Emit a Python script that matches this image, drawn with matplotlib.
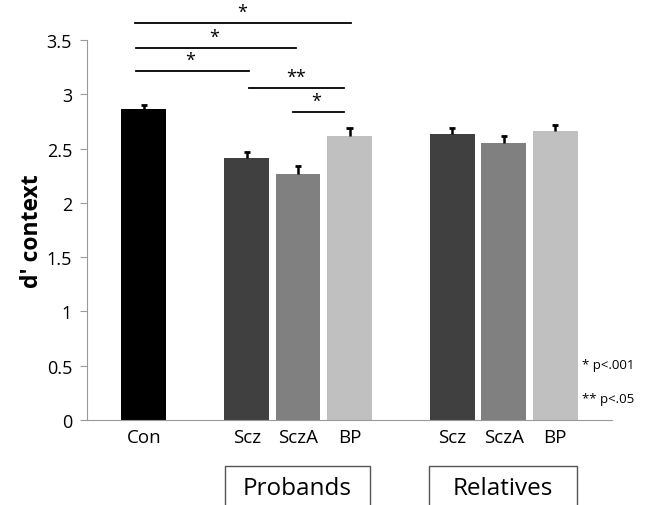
import numpy as np
import matplotlib.pyplot as plt
from matplotlib.patches import Rectangle

plt.rcParams['font.family'] = ['Open Sans', 'DejaVu Sans']

# --- data ---
labels = ["Con", "Scz", "SczA", "BP", "Scz", "SczA", "BP"]
positions = [0, 2, 3, 4, 6, 7, 8]
values = [2.86, 2.41, 2.27, 2.62, 2.63, 2.55, 2.66]
errors = [0.04, 0.06, 0.07, 0.07, 0.06, 0.07, 0.06]
colors = ["#000000", "#404040", "#808080", "#c0c0c0", "#404040", "#808080", "#c0c0c0"]

# significance brackets: (x start, x end, y, label, label x)
sig_lines = [
    (-0.17, 4.03, 3.66, "*", 1.91),
    (-0.16, 2.96, 3.43, "*", 1.36),
    (-0.16, 2.04, 3.21, "*", 0.90),
    (2.04, 3.89, 3.06, "**", 2.97),
    (2.90, 3.89, 2.84, "*", 3.36),
]
groups = [("Probands", 225, 370), ("Relatives", 429, 577)]

W, H = 670, 506
fig = plt.figure(figsize=(W / 100, H / 100), dpi=100)
ax = fig.add_axes([87.3 / W, 1 - 421 / H, (611.7 - 87.3) / W, (421 - 41) / H])

ax.bar(positions, values, width=0.87, color=colors, zorder=2)

# upper-only error bars with a small cap
pos = np.array(positions)
top = np.array(values) + np.array(errors)
ax.vlines(pos, values, top, color='black', lw=1.8, zorder=3)
ax.hlines(top, pos - 0.06, pos + 0.06, color='black', lw=2, zorder=3)

ax.set_xlim(-1.1, 9.1)
ax.set_ylim(0, 3.5)
ax.set_yticks(np.arange(0, 3.51, 0.5))
ax.set_yticklabels(["0", "0.5", "1", "1.5", "2", "2.5", "3", "3.5"], fontsize=13)
ax.set_xticks(positions)
ax.set_xticklabels(labels, fontsize=13.5)
ax.tick_params(axis='x', length=0, pad=6)
ax.tick_params(axis='y', length=5, color='#999999', pad=6)
for s in ['top', 'right']:
    ax.spines[s].set_visible(False)
ax.spines['left'].set_color('#999999')
ax.spines['bottom'].set_color('#999999')
ax.set_ylabel("d' context", fontsize=16.5, fontweight='bold', labelpad=2)

for x0, x1, y, lab, lx in sig_lines:
    ax.plot([x0, x1], [y, y], color='black', lw=1.3, clip_on=False)
    ax.text(lx, y + 0.02, lab, ha='center', va='bottom', fontsize=13, clip_on=False)

fig.text(582 / W, 1 - 365 / H, "* p<.001", fontsize=9.5, va='center')
fig.text(582 / W, 1 - 400 / H, "** p<.05", fontsize=9.5, va='center')

for name, x0, x1 in groups:
    fig.patches.append(Rectangle((x0 / W, -0.05), (x1 - x0) / W, 0.05 + 1 - 467 / H,
                                 transform=fig.transFigure, fill=False,
                                 edgecolor='#555555', lw=1))
    fig.text((x0 + x1) / 2 / W, 1 - 489 / H, name, ha='center', va='center', fontsize=17.5)

fig.savefig("out.png", dpi=100)
